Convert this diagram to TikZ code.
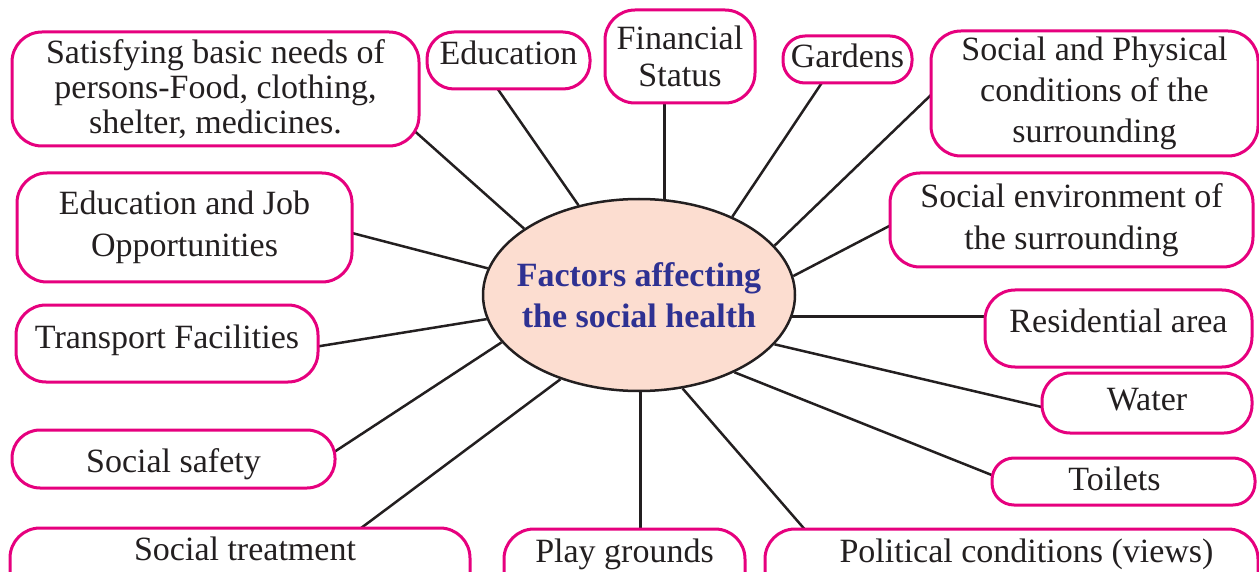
\documentclass[tikz,border=0pt]{standalone}
\usepackage{fontspec}
\setmainfont{Liberation Serif}
\usetikzlibrary{shapes.geometric}
\definecolor{pinkb}{RGB}{230,0,126}
\definecolor{ellfill}{RGB}{252,221,208}
\definecolor{titleblue}{RGB}{46,49,146}
\definecolor{ink}{RGB}{35,31,32}
\pgfdeclarelayer{bg}
\pgfsetlayers{bg,main}
\begin{document}
\begin{tikzpicture}[x=1pt,y=-1pt,
  box/.style={draw=pinkb, line width=3pt, fill=white, text=ink,
    font=\fontsize{34}{35}\selectfont, inner xsep=0pt, inner ysep=0pt,
    rounded corners=30pt},
  multibox/.style={box, align=center},
  pillbox/.style={box, anchor=base},
  conn/.style={draw=ink, line width=2.5pt, shorten >=-14pt},
]
\path[use as bounding box, clip] (0,0) rectangle (1259,572);

% centre
\node[ellipse, draw=ink, line width=2.5pt, fill=ellfill, minimum width=312pt,
  minimum height=192pt, inner sep=0pt, text=titleblue,
  font=\bfseries\fontsize{34}{41}\selectfont, align=center] (ell) at (639,295)
  {\makebox[0pt]{Factors affecting}\\\makebox[0pt]{the social health}};

% multi-line boxes
\node[multibox, minimum width=407pt, minimum height=114pt,
  font=\fontsize{34}{35}\selectfont] (sat) at (215.5,89)
  {Satisfying basic needs of\\persons-Food, clothing,\\shelter, medicines.};
\node[multibox, minimum width=150pt, minimum height=93pt,
  font=\fontsize{34}{37}\selectfont] (fin) at (680,56.5)
  {Financial\\Status};
\node[multibox, minimum width=327pt, minimum height=125pt,
  font=\fontsize{34}{41}\selectfont] (sp) at (1094.5,93.5)
  {Social and Physical\\conditions of the\\surrounding};
\node[multibox, minimum width=363pt, minimum height=94pt,
  font=\fontsize{34}{42}\selectfont] (se) at (1071.5,220)
  {Social environment of\\the surrounding};
\node[multibox, minimum width=335pt, minimum height=109pt,
  font=\fontsize{34}{42}\selectfont] (ej) at (184.5,227.5)
  {Education and Job\\Opportunities};

% single-line boxes (placed by baseline)
\node[pillbox, minimum width=163pt, text height=33pt, text depth=24pt,
  rounded corners=27pt] (edu) at (508.5,65) {Education};
\node[pillbox, minimum width=129pt, text height=32pt, text depth=15pt,
  rounded corners=22pt] (gar) at (847.5,68) {Gardens};
\node[pillbox, minimum width=267pt, text height=42pt, text depth=35pt]
  (res) at (1118.5,332) {Residential area};
\node[pillbox, minimum width=210pt, text height=37pt, text depth=23pt,
  rounded corners=28pt] (wat) at (1147,410) {Water};
\node[pillbox, minimum width=263pt, text height=32pt, text depth=15pt,
  rounded corners=22pt] (toi) at (1123.5,490) {Toilets\hspace*{18pt}};
\node[pillbox, minimum width=493pt, text height=33pt, text depth=45pt]
  (pol) at (1011.5,562) {\hspace*{30pt}Political conditions (views)};
\node[pillbox, minimum width=241pt, text height=33pt, text depth=45pt]
  (play) at (624.5,562) {Play grounds};
\node[pillbox, minimum width=460pt, text height=32pt, text depth=45pt]
  (stre) at (240,560) {\hspace*{10pt}Social treatment};
\node[pillbox, minimum width=323pt, text height=42pt, text depth=16pt,
  rounded corners=28pt] (ssaf) at (173.5,472) {Social safety};
\node[pillbox, minimum width=302pt, text height=43pt, text depth=34pt]
  (tra) at (167,348) {Transport Facilities};

% connectors
\begin{pgfonlayer}{bg}
\draw[conn] (ell.150) -- (sat.-13);
\draw[conn] (ell.124) -- (edu.-108);
\draw[conn] (ell.75) -- (ell.75 |- fin.south);
\draw[conn] (ell.40) -- (gar.-137);
\draw[conn] (ell.20) -- (sp.181);
\draw[conn] (ell.7) -- (se.182);
\draw[conn] (ell.-8) -- (ell.-8 -| res.west);
\draw[conn] (ell.-20) -- (wat.182);
\draw[conn] (ell.-39) -- (toi.177);
\draw[conn] (ell.-65) -- (pol.169);
\draw[conn] (ell.-89) -- (ell.-89 |- play.north);
\draw[conn] (ell.-133) -- (stre.18);
\draw[conn] (ell.-161) -- (ssaf.3);
\draw[conn] (ell.-171) -- (tra.-1);
\draw[conn] (ell.170) -- (ej.-2);
\end{pgfonlayer}
\end{tikzpicture}
\end{document}
